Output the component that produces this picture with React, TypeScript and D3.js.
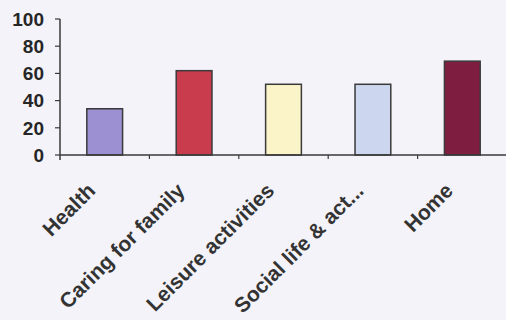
import * as d3 from 'd3';

const categories = ['Health', 'Caring for family', 'Leisure activities', 'Social life & act...', 'Home'];
const values = [34, 62, 52, 52, 69];
const barColors = ['#9d90d2', '#c83c4e', '#fbf4c9', '#ccd6ef', '#7f1d40'];
const yTicks = [0, 20, 40, 60, 80, 100];

const W = 506;
const H = 320;
const margin = { left: 60, right: -1, top: 19, bottom: 165 };

export default function App() {
  const x = d3
    .scaleBand<string>()
    .domain(categories)
    .range([margin.left, W - margin.right])
    .paddingInner(0)
    .paddingOuter(0);
  const y = d3.scaleLinear().domain([0, 100]).range([H - margin.bottom, margin.top]);
  const barW = x.bandwidth() * 0.4;
  const y0 = y(0);

  return (
    <svg
      width={W}
      height={H}
      style={{ position: 'absolute', left: 0, top: 0, display: 'block' }}
      fontFamily="'Liberation Sans', Arial, sans-serif"
    >
      <rect x={0} y={0} width={W} height={H} fill="#f3f3f9" />

      {/* bars */}
      {categories.map((c, i) => (
        <rect
          key={c}
          x={x(c)! + x.bandwidth() / 2 - barW / 2}
          y={y(values[i])}
          width={barW}
          height={y0 - y(values[i])}
          fill={barColors[i]}
          stroke="#3a3a3a"
          strokeWidth={1.5}
        />
      ))}

      {/* y axis */}
      <line x1={margin.left} x2={margin.left} y1={y(100)} y2={y0 + 5} stroke="#3a3a3a" strokeWidth={1.5} />
      {yTicks.map((t) => (
        <g key={t}>
          <line x1={margin.left - 5} x2={margin.left} y1={y(t)} y2={y(t)} stroke="#3a3a3a" strokeWidth={1.2} />
          <text
            x={margin.left - 16}
            y={y(t)}
            dy="0.36em"
            textAnchor="end"
            fontSize={19}
            fontWeight="bold"
            fill="#262626"
          >
            {t}
          </text>
        </g>
      ))}

      {/* x axis */}
      <line x1={margin.left} x2={W} y1={y0} y2={y0} stroke="#3a3a3a" strokeWidth={1.5} />
      {categories.slice(1).map((c) => (
        <line key={c} x1={x(c)!} x2={x(c)!} y1={y0} y2={y0 + 4} stroke="#3a3a3a" strokeWidth={1.2} />
      ))}

      {/* rotated category labels */}
      {categories.map((c) => {
        const cx = x(c)! + x.bandwidth() / 2 - 8;
        return (
          <text
            key={c}
            transform={`translate(${cx},${y0 + 37}) rotate(-45)`}
            textAnchor="end"
            fontSize={21}
            fontWeight="bold"
            fill="#333333"
          >
            {c}
          </text>
        );
      })}
    </svg>
  );
}
